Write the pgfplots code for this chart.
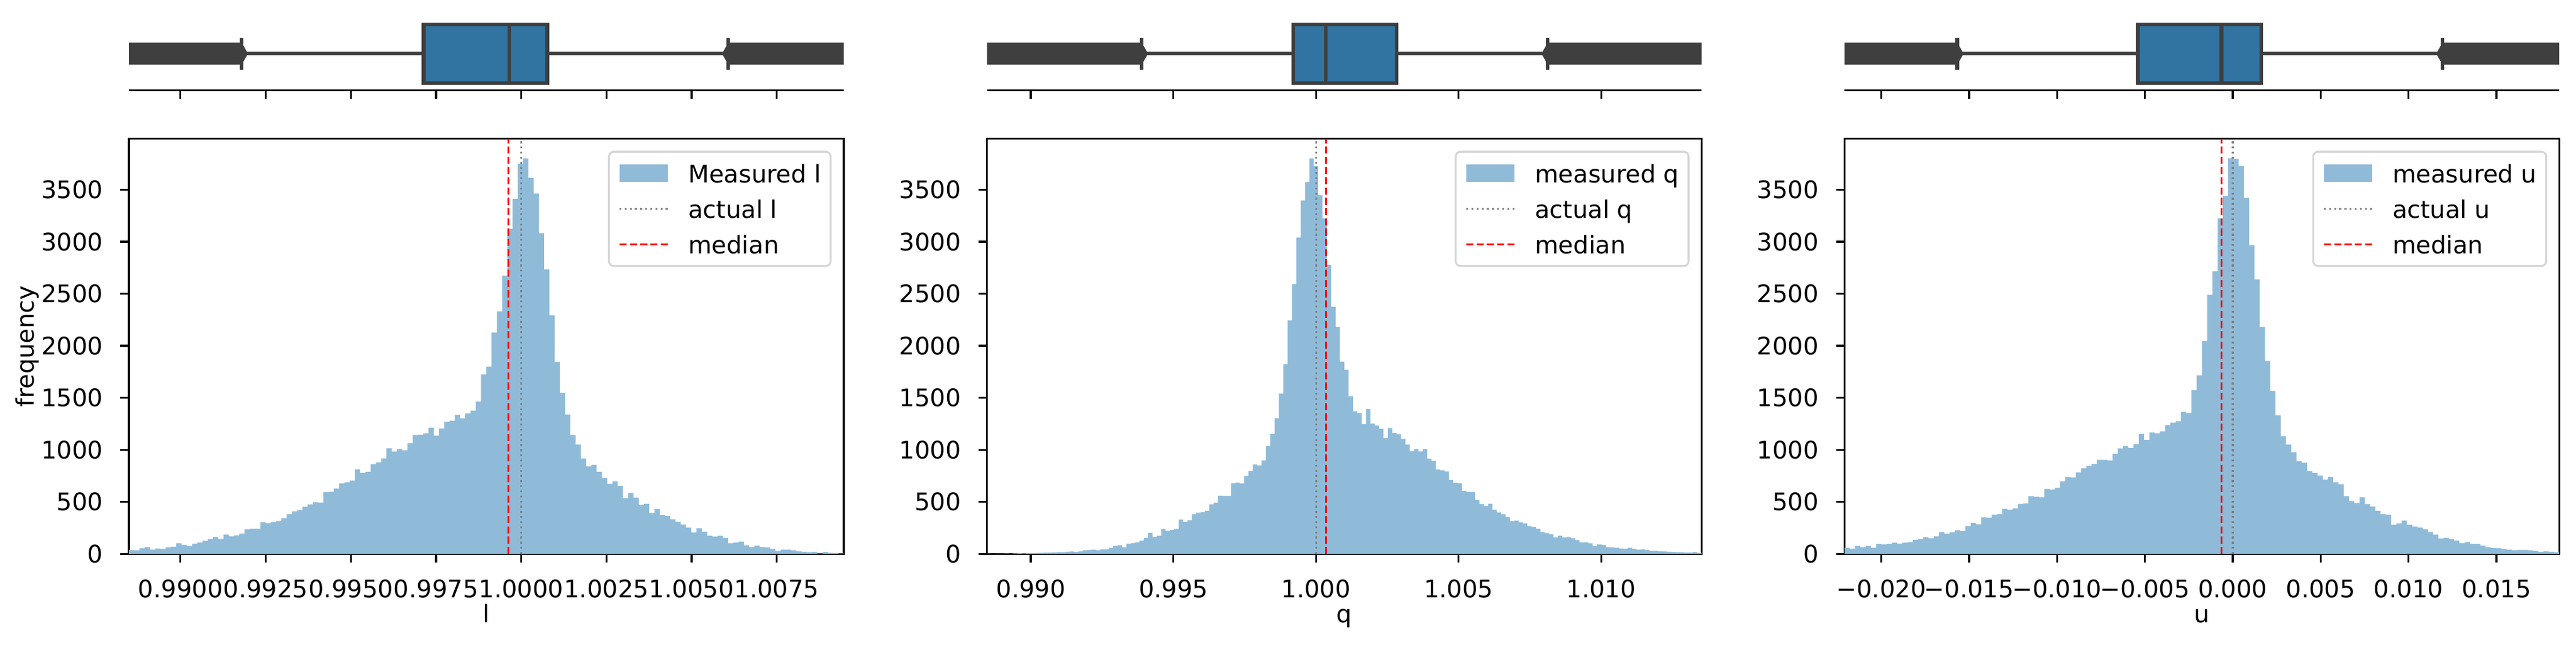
\documentclass[border=0pt]{standalone}
\usepackage{fontspec}
\setmainfont{DejaVu Sans}
\usepackage{pgfplots}
\pgfplotsset{compat=1.18}
\usepackage{pgfplotstable}
\usepgfplotslibrary{statistics}

\definecolor{histblue}{RGB}{143,187,217}
\definecolor{boxblue}{RGB}{50,116,161}
\definecolor{boxgray}{RGB}{63,63,63}
\definecolor{actgray}{RGB}{128,128,128}
\definecolor{legframe}{RGB}{214,214,214}

% histogram counts, one row per bin (left to right); last row closes the outline
\pgfplotstableread[row sep=\\]{
c\\ 37\\ 34\\ 56\\ 66\\ 41\\ 52\\ 49\\ 64\\ 69\\ 103\\
88\\ 75\\ 99\\ 110\\ 127\\ 144\\ 165\\ 144\\ 187\\ 169\\
178\\ 195\\ 236\\ 242\\ 242\\ 305\\ 296\\ 307\\ 317\\ 345\\
380\\ 408\\ 420\\ 453\\ 476\\ 496\\ 493\\ 594\\ 597\\ 629\\
676\\ 687\\ 706\\ 813\\ 777\\ 789\\ 862\\ 880\\ 918\\ 1015\\
983\\ 1008\\ 995\\ 1064\\ 1143\\ 1146\\ 1159\\ 1212\\ 1137\\ 1206\\
1270\\ 1279\\ 1337\\ 1302\\ 1350\\ 1377\\ 1463\\ 1725\\ 1800\\ 2126\\
2331\\ 2673\\ 3123\\ 3412\\ 3750\\ 3800\\ 3613\\ 3462\\ 3081\\ 2734\\
2292\\ 1845\\ 1547\\ 1339\\ 1143\\ 1051\\ 916\\ 841\\ 856\\ 789\\
729\\ 674\\ 697\\ 654\\ 536\\ 586\\ 541\\ 472\\ 481\\ 393\\
431\\ 375\\ 365\\ 333\\ 309\\ 283\\ 253\\ 206\\ 247\\ 215\\
176\\ 167\\ 174\\ 155\\ 103\\ 110\\ 118\\ 84\\ 66\\ 81\\
66\\ 62\\ 49\\ 28\\ 41\\ 41\\ 34\\ 26\\ 21\\ 17\\
21\\ 4\\ 19\\ 11\\ 9\\ 4\\ 0\\
}\histL

\pgfplotstableread[row sep=\\]{
c\\ 2\\ 1\\ 3\\ 2\\ 4\\ 3\\ 5\\ 6\\ 5\\ 7\\
8\\ 9\\ 11\\ 12\\ 13\\ 15\\ 16\\ 16\\ 20\\ 23\\
18\\ 26\\ 34\\ 39\\ 42\\ 36\\ 44\\ 44\\ 60\\ 78\\
83\\ 63\\ 99\\ 104\\ 112\\ 128\\ 154\\ 203\\ 164\\ 175\\
240\\ 222\\ 232\\ 240\\ 331\\ 308\\ 323\\ 380\\ 396\\ 401\\
414\\ 477\\ 493\\ 560\\ 558\\ 558\\ 680\\ 685\\ 678\\ 751\\
797\\ 860\\ 850\\ 899\\ 1037\\ 1154\\ 1303\\ 1540\\ 1822\\ 2244\\
2593\\ 3041\\ 3396\\ 3573\\ 3800\\ 3724\\ 3448\\ 3224\\ 2775\\ 2374\\
2179\\ 1848\\ 1769\\ 1514\\ 1371\\ 1353\\ 1246\\ 1392\\ 1253\\ 1233\\
1201\\ 1113\\ 1209\\ 1162\\ 1149\\ 1105\\ 1050\\ 988\\ 1006\\ 985\\
1006\\ 915\\ 896\\ 810\\ 803\\ 792\\ 711\\ 683\\ 680\\ 607\\
597\\ 594\\ 519\\ 480\\ 461\\ 482\\ 425\\ 399\\ 380\\ 354\\
315\\ 321\\ 302\\ 294\\ 268\\ 258\\ 242\\ 211\\ 201\\ 190\\
159\\ 175\\ 159\\ 162\\ 151\\ 133\\ 112\\ 112\\ 102\\ 76\\
91\\ 86\\ 65\\ 63\\ 60\\ 52\\ 50\\ 60\\ 50\\ 42\\
44\\ 39\\ 31\\ 29\\ 26\\ 23\\ 21\\ 18\\ 16\\ 16\\
13\\ 13\\ 18\\ 10\\ 0\\
}\histQ

\pgfplotstableread[row sep=\\]{
c\\ 60\\ 50\\ 78\\ 65\\ 78\\ 60\\ 96\\ 91\\ 96\\ 109\\
99\\ 109\\ 112\\ 136\\ 141\\ 162\\ 151\\ 169\\ 211\\ 195\\
208\\ 229\\ 219\\ 268\\ 297\\ 284\\ 352\\ 349\\ 378\\ 380\\
433\\ 425\\ 438\\ 480\\ 485\\ 555\\ 550\\ 545\\ 625\\ 620\\
636\\ 698\\ 740\\ 735\\ 784\\ 823\\ 847\\ 865\\ 904\\ 904\\
899\\ 962\\ 1014\\ 1037\\ 1019\\ 1055\\ 1154\\ 1097\\ 1167\\ 1160\\
1178\\ 1238\\ 1261\\ 1274\\ 1366\\ 1353\\ 1574\\ 1715\\ 2046\\ 2489\\
2715\\ 3224\\ 3440\\ 3802\\ 3794\\ 3724\\ 3422\\ 2966\\ 2637\\ 2179\\
1853\\ 1566\\ 1332\\ 1131\\ 1050\\ 977\\ 891\\ 876\\ 795\\ 779\\
753\\ 714\\ 740\\ 688\\ 670\\ 555\\ 508\\ 490\\ 545\\ 480\\
456\\ 414\\ 380\\ 378\\ 281\\ 294\\ 321\\ 281\\ 263\\ 253\\
237\\ 211\\ 185\\ 149\\ 154\\ 141\\ 128\\ 104\\ 112\\ 96\\
96\\ 81\\ 65\\ 57\\ 55\\ 47\\ 42\\ 36\\ 39\\ 39\\
34\\ 29\\ 21\\ 26\\ 21\\ 16\\ 0\\
}\histU

\pgfplotsset{
  every axis x label/.style={at={(axis description cs:0.5,-0.166)}, anchor=base, inner sep=0pt},
  every axis y label/.style={at={(axis description cs:-0.1421,0.5)}, anchor=center, rotate=90, inner sep=0pt},
  histax/.style={
    scale only axis, width=295.4pt, height=171.53pt,
    ymin=0, ymax=3990, scaled ticks=false,
    ytick={0,500,1000,1500,2000,2500,3000,3500},
    yticklabels={0,500,1000,1500,2000,2500,3000,3500},
    tick align=outside, tick pos=left,
    major tick length=3.5pt,
    tick style={black, line width=0.8pt},
    axis line style={line width=0.8pt},
    xticklabel style={anchor=base, inner sep=0pt, yshift=-14.64pt},
    yticklabel style={anchor=east, inner sep=0pt, xshift=-7pt},
    legend style={at={(1,1)}, anchor=north east, xshift=-5pt, yshift=-5pt,
      draw=legframe, line width=0.8pt, rounded corners=2pt, fill=white,
      inner xsep=4pt, inner ysep=2.8pt, row sep=2.5pt, column sep=8pt,
      cells={anchor=west},
      nodes={inner sep=0pt, text height=9.9pt, text depth=2.3pt}},
  },
  boxax/.style={
    scale only axis, width=295.4pt, height=30.19pt,
    ymin=-0.5, ymax=0.5, scaled ticks=false,
    axis x line*=bottom, axis y line=none,
    ytick=\empty, xticklabels={},
    tick align=outside, major tick length=3.5pt,
    tick style={black, line width=0.8pt},
    axis line style={line width=0.8pt},
  },
  histbars/.style={const plot, fill=histblue, draw=none,
    legend image code/.code={\fill[histblue, sharp corners] (0pt,-3.6pt) rectangle (20pt,3.6pt);}},
  actualline/.style={actgray, line width=0.8pt, dash pattern=on 0.8pt off 1.32pt,
    legend image code/.code={\draw[actgray, line width=0.8pt, dash pattern=on 0.8pt off 1.32pt] (0pt,0pt) -- (20pt,0pt);}},
  medianline/.style={red, line width=0.8pt, dash pattern=on 2.96pt off 1.28pt,
    legend image code/.code={\draw[red, line width=0.8pt, dash pattern=on 2.96pt off 1.28pt] (0pt,0pt) -- (20pt,0pt);}},
  flier/.style={fill=boxgray, draw=none},
  boxstyle/.style={draw=boxgray, fill=boxblue, line width=1.5pt, solid},
}

\begin{document}
\begin{tikzpicture}
\path[use as bounding box] (0pt,0pt) rectangle (1064.64pt,266.16pt);

% ---------------- panel 1 : l ----------------
\begin{axis}[boxax, at={(53.28pt,228.91pt)}, anchor=south west,
  xmin=0.988486, xmax=1.009465,
  xtick={0.99,0.9925,0.995,0.9975,1,1.0025,1.005,1.0075}]
\addplot[flier] coordinates {(0.988486,-0.151) (0.991795,-0.151) (0.99198,0) (0.991795,0.151) (0.988486,0.151)} -- cycle;
\addplot[flier] coordinates {(1.009465,-0.151) (1.00608,-0.151) (1.005895,0) (1.00608,0.151) (1.009465,0.151)} -- cycle;
\addplot[boxstyle, boxplot prepared={lower whisker=0.991795, lower quartile=0.997134,
  median=0.999644, upper quartile=1.000768, upper whisker=1.00608,
  draw position=0, box extend=0.8, whisker extend=0.44}] coordinates {};
\end{axis}

\begin{axis}[histax, at={(53.28pt,37.37pt)}, anchor=south west,
  xmin=0.988486, xmax=1.009465,
  xtick={0.99,0.9925,0.995,0.9975,1,1.0025,1.005,1.0075},
  xticklabels={0.9900,0.9925,0.9950,0.9975,1.0000,1.0025,1.0050,1.0075},
  xlabel={l}, ylabel={frequency}]
\addplot[histbars] table[x expr=0.988486+\coordindex*0.00015426, y=c] {\histL} \closedcycle;
\addlegendentry{Measured l}
\addplot[actualline] coordinates {(1,0) (1,3990)};
\addlegendentry{actual l}
\addplot[medianline] coordinates {(0.99963,0) (0.99963,3990)};
\addlegendentry{median}
\end{axis}

% ---------------- panel 2 : q ----------------
\begin{axis}[boxax, at={(407.88pt,228.91pt)}, anchor=south west,
  xmin=0.98846, xmax=1.013526,
  xtick={0.99,0.995,1,1.005,1.01}]
\addplot[flier] coordinates {(0.98846,-0.151) (0.993889,-0.151) (0.994109,0) (0.993889,0.151) (0.98846,0.151)} -- cycle;
\addplot[flier] coordinates {(1.013526,-0.151) (1.008128,-0.151) (1.007908,0) (1.008128,0.151) (1.013526,0.151)} -- cycle;
\addplot[boxstyle, boxplot prepared={lower whisker=0.993889, lower quartile=0.999207,
  median=1.000347, upper quartile=1.002826, upper whisker=1.008128,
  draw position=0, box extend=0.8, whisker extend=0.44}] coordinates {};
\end{axis}

\begin{axis}[histax, at={(407.88pt,37.37pt)}, anchor=south west,
  xmin=0.98846, xmax=1.013526,
  xtick={0.99,0.995,1,1.005,1.01},
  xticklabels={0.990,0.995,1.000,1.005,1.010},
  xlabel={q}]
\addplot[histbars] table[x expr=0.98846+\coordindex*0.00015284, y=c] {\histQ} \closedcycle;
\addlegendentry{measured q}
\addplot[actualline] coordinates {(1,0) (1,3990)};
\addlegendentry{actual q}
\addplot[medianline] coordinates {(1.000354,0) (1.000354,3990)};
\addlegendentry{median}
\end{axis}

% ---------------- panel 3 : u ----------------
\begin{axis}[boxax, at={(762.31pt,228.91pt)}, anchor=south west,
  xmin=-0.022087, xmax=0.018577,
  xtick={-0.02,-0.015,-0.01,-0.005,0,0.005,0.01,0.015}]
\addplot[flier] coordinates {(-0.022087,-0.151) (-0.01567,-0.151) (-0.01531,0) (-0.01567,0.151) (-0.022087,0.151)} -- cycle;
\addplot[flier] coordinates {(0.018577,-0.151) (0.011935,-0.151) (0.011575,0) (0.011935,0.151) (0.018577,0.151)} -- cycle;
\addplot[boxstyle, boxplot prepared={lower whisker=-0.01567, lower quartile=-0.0054,
  median=-0.000637, upper quartile=0.001635, upper whisker=0.011935,
  draw position=0, box extend=0.8, whisker extend=0.44}] coordinates {};
\end{axis}

\begin{axis}[histax, at={(762.31pt,37.37pt)}, anchor=south west,
  xmin=-0.022087, xmax=0.018577,
  xtick={-0.02,-0.015,-0.01,-0.005,0,0.005,0.01,0.015},
  xticklabels={−0.020,−0.015,−0.010,−0.005,0.000,0.005,0.010,0.015},
  xlabel={u}]
\addplot[histbars] table[x expr=-0.022087+\coordindex*0.000299, y=c] {\histU} \closedcycle;
\addlegendentry{measured u}
\addplot[actualline] coordinates {(0,0) (0,3990)};
\addlegendentry{actual u}
\addplot[medianline] coordinates {(-0.00063,0) (-0.00063,3990)};
\addlegendentry{median}
\end{axis}
\end{tikzpicture}
\end{document}
